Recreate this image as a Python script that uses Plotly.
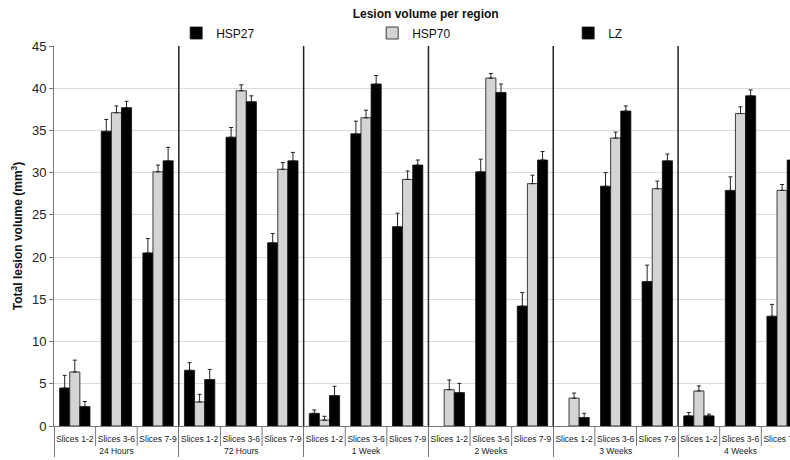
import plotly.graph_objects as go

times = ["24 Hours", "72 Hours", "1 Week", "2 Weeks", "3 Weeks", "4 Weeks"]
slices = ["Slices 1-2", "Slices 3-6", "Slices 7-9"]

hsp27 = [4.5, 34.9, 20.5, 6.6, 34.2, 21.7, 1.5, 34.6, 23.6, None, 30.1, 14.2, None, 28.4, 17.1, 1.2, 27.9, 13.0]
hsp27_err = [1.5, 1.4, 1.7, 0.9, 1.15, 1.1, 0.4, 1.5, 1.6, None, 1.5, 1.6, None, 1.6, 1.95, 0.4, 1.6, 1.4]
hsp70 = [6.4, 37.1, 30.1, 2.85, 39.7, 30.4, 0.7, 36.5, 29.2, 4.3, 41.2, 28.7, 3.3, 34.1, 28.1, 4.15, 37.0, 27.9]
hsp70_err = [1.4, 0.8, 0.8, 0.9, 0.7, 0.8, 0.45, 0.9, 1.0, 1.15, 0.55, 1.0, 0.6, 0.7, 0.9, 0.6, 0.8, 0.7]
lz = [2.3, 37.7, 31.4, 5.5, 38.4, 31.4, 3.6, 40.5, 30.9, 3.95, 39.5, 31.5, 1.0, 37.3, 31.4, 1.2, 39.1, 31.5]
lz_err = [0.6, 0.75, 1.6, 1.2, 0.7, 1.0, 1.1, 1.0, 0.6, 1.1, 1.0, 1.0, 0.5, 0.6, 0.8, 0.2, 0.7, 0.8]

outer = [t for t in times for _ in slices]
inner = [s for _ in times for s in slices]
x = [outer, inner]

FONT = "Liberation Sans, Arial, Helvetica, sans-serif"

W, H = 790, 460
ML, MR, MT, MB = 54, 0, 46, 34
PLOT_H = H - MT - MB

def series(name, vals, errs, fill):
    return go.Bar(
        name=name, x=x, y=vals,
        marker=dict(color=fill, line=dict(color="#111111", width=0.8)),
        error_y=dict(type="data", symmetric=False, array=errs,
                     arrayminus=[0] * len(errs), color="#222222",
                     thickness=1, width=2),
    )

fig = go.Figure([
    series("HSP27", hsp27, hsp27_err, "#000000"),
    series("HSP70", hsp70, hsp70_err, "#d4d4d4"),
    series("LZ", lz, lz_err, "#000000"),
])

x0, x1 = -0.5, 17.19
def xp(v):
    return (v - x0) / (x1 - x0)

n = len(outer)
for j in range(1, n):
    b = j - 0.5
    if j % len(slices) == 0:
        # separator between time points inside the plot
        fig.add_shape(type="line", xref="paper", yref="paper",
                      x0=xp(b), x1=xp(b), y0=0, y1=1,
                      line=dict(color="#222222", width=1.5), layer="above")
    else:
        # short divider between slice labels
        fig.add_shape(type="line", xref="paper", yref="paper",
                      x0=xp(b), x1=xp(b), y0=0, y1=-20 / PLOT_H,
                      line=dict(color="#777777", width=1), layer="above")

fig.update_layout(
    width=W, height=H,
    margin=dict(l=ML, r=MR, t=MT, b=MB, autoexpand=False),
    paper_bgcolor="white", plot_bgcolor="white",
    font=dict(family=FONT, color="#222222"),
    barmode="group", bargap=0.27, bargroupgap=0,
    title=dict(text="<b>Lesion volume per region</b>", x=0.505, xref="paper",
               xanchor="center",
               y=1 - 14 / H, yref="container", yanchor="middle",
               font=dict(size=12, color="#111111")),
    legend=dict(orientation="h", x=0.166, xref="paper",
                y=1 - 33 / H, yref="container", yanchor="middle",
                entrywidth=151, entrywidthmode="pixels",
                font=dict(size=12, color="#111111"), bgcolor="rgba(0,0,0,0)",
                tracegroupgap=0),
    showlegend=True,
)

fig.update_xaxes(
    type="multicategory", range=[x0, x1],
    tickfont=dict(size=8.5, color="#222222"), tickangle=0,
    showline=True, linecolor="#777777", linewidth=1,
    ticks="outside", tickson="labels", ticklen=5, tickcolor="rgba(0,0,0,0)",
    showdividers=True, dividercolor="#777777", dividerwidth=1,
    showgrid=False,
)
fig.update_yaxes(
    range=[0, 45], dtick=5,
    tickfont=dict(size=13, color="#222222"),
    showgrid=True, gridcolor="#dcdcdc", gridwidth=1,
    showline=True, linecolor="#777777", linewidth=1,
    ticks="outside", ticklen=4, tickcolor="#777777",
    zeroline=False,
    title=dict(text="<b>Total lesion volume (mm<sup>3</sup>)</b>",
               font=dict(size=12, color="#111111"), standoff=6),
)

fig.write_html("out.html", config={"displayModeBar": False},
               post_script="document.body.style.margin='0';")
